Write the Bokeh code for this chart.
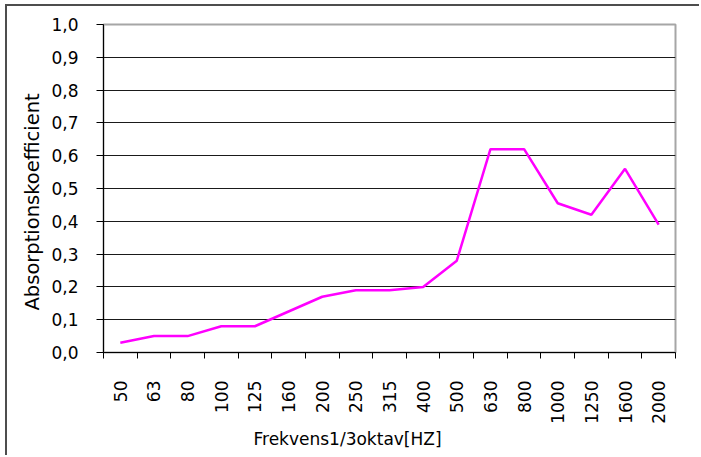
from math import pi
from bokeh.plotting import figure
from bokeh.models import Range1d, FixedTicker, Title
from bokeh.embed import file_html
from bokeh.resources import INLINE

# ---- data ----
frequencies = ["50", "63", "80", "100", "125", "160", "200", "250", "315",
               "400", "500", "630", "800", "1000", "1250", "1600", "2000"]
absorption = [0.03, 0.05, 0.05, 0.08, 0.08, 0.125, 0.17, 0.19, 0.19,
              0.20, 0.28, 0.62, 0.62, 0.455, 0.42, 0.56, 0.39]
y_ticks = [0.0, 0.1, 0.2, 0.3, 0.4, 0.5, 0.6, 0.7, 0.8, 0.9, 1.0]
y_tick_labels = ["0,0", "0,1", "0,2", "0,3", "0,4", "0,5",
                 "0,6", "0,7", "0,8", "0,9", "1,0"]
x_title = "Frekvens1/3oktav[HZ]"
y_title = "Absorptionskoefficient"

n = len(frequencies)
x_pos = [i + 0.5 for i in range(n)]
x_edges = list(range(n + 1))

FONT = "DejaVu Sans"

p = figure(width=694, height=451, output_backend="svg", toolbar_location=None,
           x_range=Range1d(0, n), y_range=Range1d(0, 1),
           min_border_left=96, min_border_right=26,
           min_border_top=18, min_border_bottom=105,
           margin=(6, 0, 0, 7))
# outer chart-area frame (left and top edges visible in the window)
p.styles = {"box-shadow": "-2px -2px 0 0 #4d4d4d"}

p.background_fill_color = "white"
p.border_fill_color = "white"
p.outline_line_color = "#a6a6a6"
p.outline_line_width = 2

p.xgrid.visible = False
p.ygrid.ticker = FixedTicker(ticks=y_ticks[:-1])
p.ygrid.grid_line_color = "#1a1a1a"
p.ygrid.grid_line_width = 1

# y axis
ya = p.yaxis[0]
ya.ticker = FixedTicker(ticks=y_ticks)
ya.major_label_overrides = dict(zip(y_ticks, y_tick_labels))
ya.axis_line_color = "black"
ya.major_tick_line_color = "black"
ya.major_tick_in = 0
ya.major_tick_out = 7
ya.minor_tick_line_color = None
ya.major_label_standoff = 18
ya.major_label_text_font = FONT
ya.major_label_text_font_size = "17px"
ya.major_label_text_color = "black"

# x axis
xa = p.xaxis[0]
xa.ticker = FixedTicker(ticks=x_pos, minor_ticks=x_edges)
xa.major_label_overrides = dict(zip(x_pos, frequencies))
xa.axis_line_color = "black"
xa.major_tick_line_color = None
xa.major_tick_in = 0
xa.major_tick_out = 0
xa.minor_tick_line_color = "black"
xa.minor_tick_in = 0
xa.minor_tick_out = 6
xa.major_label_orientation = pi / 2
xa.major_label_standoff = 22
xa.major_label_text_font = FONT
xa.major_label_text_font_size = "17px"
xa.major_label_text_color = "black"

p.line(x_pos, absorption, line_color="#ff00ff", line_width=2.5)

p.add_layout(Title(text=x_title, align="left", offset=150, standoff=1,
                   text_font=FONT, text_font_size="17px",
                   text_font_style="normal", text_color="black"), "below")
p.add_layout(Title(text=y_title, align="left", offset=42, standoff=10,
                   text_font=FONT, text_font_size="19.5px",
                   text_font_style="normal", text_color="black"), "left")

open("out.html", "w").write(file_html(p, INLINE))
